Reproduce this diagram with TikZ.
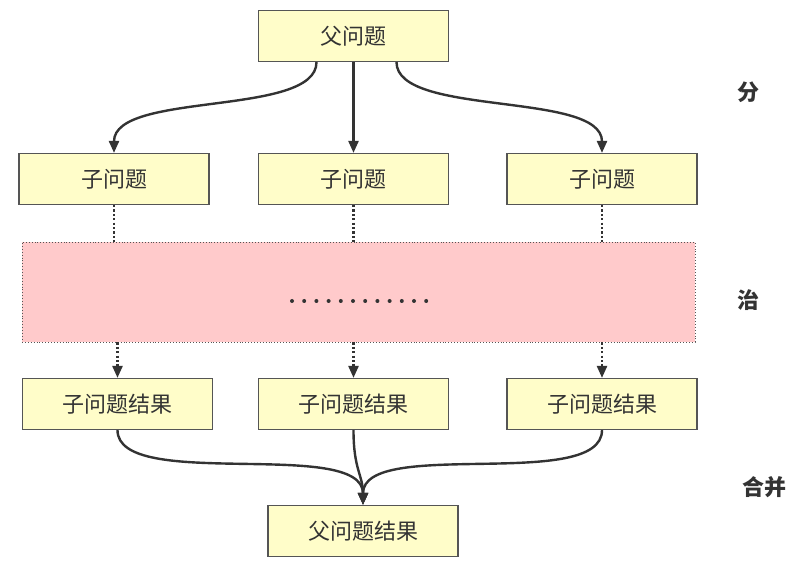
\documentclass[tikz,border=0pt]{standalone}
\usepackage{fontspec}
\setmainfont{Noto Sans CJK SC}
\usetikzlibrary{arrows.meta}
\definecolor{boxfill}{HTML}{FFFDC9}
\definecolor{boxline}{HTML}{555555}
\definecolor{pinkfill}{HTML}{FFCACB}
\definecolor{ink}{HTML}{333333}
\tikzset{
  box/.style={draw=boxline, line width=1.2pt, fill=boxfill, minimum width=190pt, minimum height=51pt, inner sep=0pt, text=ink, font=\fontsize{22}{24}\selectfont},
  conn/.style={draw=ink, line width=2.4pt, -{Triangle[length=12pt,width=10pt]}},
  dotline/.style={draw=ink, line width=2.4pt, dash pattern=on 2.2pt off 2.2pt},
  sidelabel/.style={text=ink, font=\fontsize{22}{24}\selectfont\bfseries},
}
\begin{document}
\begin{tikzpicture}[x=1pt,y=-1pt]
\useasboundingbox (0,0) rectangle (795,561);
% nodes
\node[box] (p) at (353.5,36) {父问题};
\node[box] (s1) at (114,179) {子问题};
\node[box] (s2) at (353.5,179) {子问题};
\node[box] (s3) at (602,179) {子问题};
\node[draw=boxline, line width=0.9pt, dotted, fill=pinkfill, minimum width=673pt, minimum height=100pt, inner sep=0pt] (m) at (358.5,292) {};
\node[box] (r1) at (117.5,404) {子问题结果};
\node[box] (r2) at (353.5,404) {子问题结果};
\node[box] (r3) at (602,404) {子问题结果};
\node[box] (f) at (363,531) {父问题结果};
% dots in the pink area
\foreach \i in {0,...,11} \fill[ink] (292+\i*12.2,301) circle (2pt);
% side labels
\node[sidelabel] (l1) at (748,92) {分};
\node[sidelabel] (l2) at (748,300) {治};
\node[sidelabel] (l3) at (764,487) {合并};
% divide
\coordinate (pa) at ([xshift=-37pt]p.south);
\coordinate (pb) at ([xshift=43pt]p.south);
\draw[conn] (pa) .. controls ([yshift=-55pt]pa) and ([yshift=62pt]s1.north) .. (s1.north);
\draw[conn] (p.south) -- (s2.north);
\draw[conn] (pb) .. controls ([yshift=-55pt]pb) and ([yshift=62pt]s3.north) .. (s3.north);
% conquer
\draw[dotline] (s1.south) -- (s1.south |- m.north);
\draw[dotline] (s2.south) -- (s2.south |- m.north);
\draw[dotline] (s3.south) -- (s3.south |- m.north);
\coordinate (m1) at (r1.north |- m.south);
\coordinate (m2) at (r2.north |- m.south);
\coordinate (m3) at (r3.north |- m.south);
\draw[dotline] (m1) -- ([yshift=14pt]r1.north);
\draw[dotline] (m2) -- ([yshift=14pt]r2.north);
\draw[dotline] (m3) -- ([yshift=14pt]r3.north);
\draw[conn] ([yshift=14pt]r1.north) -- (r1.north);
\draw[conn] ([yshift=14pt]r2.north) -- (r2.north);
\draw[conn] ([yshift=14pt]r3.north) -- (r3.north);
% merge
\draw[conn] (r1.south) .. controls ([yshift=-62pt]r1.south) and ([yshift=68pt]f.north) .. (f.north);
\draw[conn] (r2.south) .. controls ([yshift=-40pt]r2.south) and ([yshift=30pt]f.north) .. (f.north);
\draw[conn] (r3.south) .. controls ([yshift=-62pt]r3.south) and ([yshift=68pt]f.north) .. (f.north);
\end{tikzpicture}
\end{document}
